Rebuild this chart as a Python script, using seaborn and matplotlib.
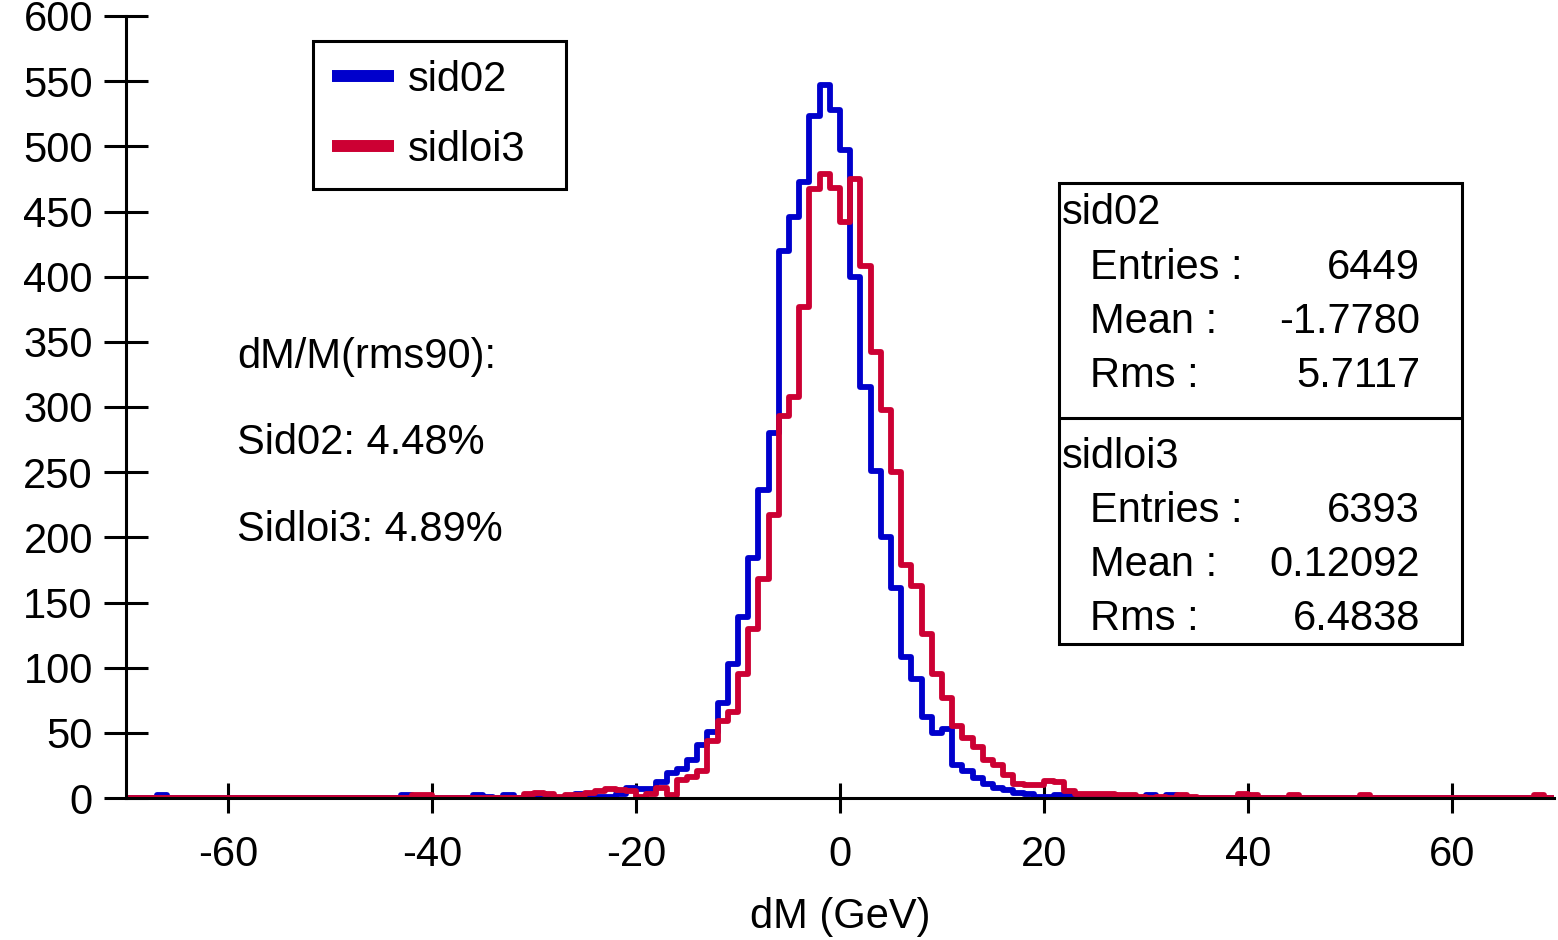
import numpy as np
import pandas as pd
import seaborn as sns
import matplotlib
matplotlib.use("Agg")
import matplotlib.pyplot as plt
from matplotlib.lines import Line2D
from matplotlib.patches import Rectangle

# ---------------- data ----------------
edges = list(range(-70, 71))          # 1 GeV bins from -70 to 70

sid02_counts = [
    0, 0, 0, 2, 0, 0, 0, 0, 0, 0,          # -70 .. -61
    0, 0, 0, 0, 0, 0, 0, 0, 0, 0,          # -60 .. -51
    0, 0, 0, 0, 0, 0, 0, 2, 0, 0,          # -50 .. -41
    0, 0, 0, 0, 2, 1, 0, 2, 0, 0,          # -40 .. -31
    0, 1, 0, 0, 3, 1, 1, 1, 3, 8,          # -30 .. -21
    7, 7, 12, 19, 22, 29, 41, 51, 73, 103,  # -20 .. -11
    139, 184, 236, 280, 420, 446, 473, 523, 547, 528,  # -10 .. -1
    497, 400, 315, 251, 200, 161, 108, 91, 62, 50,     # 0 .. 9
    53, 25, 21, 15, 11, 8, 6, 4, 3, 1,     # 10 .. 19
    1, 2, 2, 1, 0, 1, 0, 1, 0, 0,          # 20 .. 29
    2, 0, 2, 0, 0, 0, 0, 0, 0, 0,          # 30 .. 39
    1, 0, 0, 0, 0, 0, 0, 0, 0, 0,          # 40 .. 49
    0, 0, 0, 0, 0, 0, 0, 0, 0, 0,          # 50 .. 59
    0, 0, 0, 0, 0, 0, 0, 0, 0, 0,          # 60 .. 69
]

sidloi3_counts = [
    0, 0, 0, 0, 0, 0, 0, 0, 0, 0,          # -70 .. -61
    0, 0, 0, 0, 0, 0, 0, 0, 0, 0,          # -60 .. -51
    0, 0, 0, 0, 0, 0, 0, 0, 2, 2,          # -50 .. -41
    0, 0, 0, 0, 0, 0, 0, 0, 0, 3,          # -40 .. -31
    4, 3, 1, 2, 2, 4, 5, 7, 6, 5,          # -30 .. -21
    1, 3, 8, 2, 14, 16, 21, 44, 59, 66,    # -20 .. -11
    95, 130, 168, 217, 293, 308, 377, 467, 479, 468,   # -10 .. -1
    442, 475, 408, 342, 298, 250, 179, 163, 126, 95,   # 0 .. 9
    77, 55, 46, 39, 29, 25, 18, 11, 10, 10,  # 10 .. 19
    13, 12, 5, 3, 3, 3, 3, 2, 2, 1,        # 20 .. 29
    0, 1, 0, 2, 1, 0, 0, 0, 0, 3,          # 30 .. 39
    2, 0, 0, 0, 2, 0, 0, 0, 0, 0,          # 40 .. 49
    0, 2, 0, 0, 0, 0, 0, 0, 0, 0,          # 50 .. 59
    0, 0, 0, 0, 0, 0, 0, 0, 2, 0,          # 60 .. 69
]

series_names = ["sid02", "sidloi3"]
series_colors = ["#0000cc", "#cc0033"]

x_ticks = [-60, -40, -20, 0, 20, 40, 60]
y_ticks = list(range(0, 601, 50))
x_label = "dM (GeV)"

annot_lines = ["dM/M(rms90):", "Sid02: 4.48%", "Sidloi3: 4.89%"]
stats = {
    "sid02": [("Entries :", "6449"), ("Mean :", "-1.7780"), ("Rms :", "5.7117")],
    "sidloi3": [("Entries :", "6393"), ("Mean :", "0.12092"), ("Rms :", "6.4838")],
}

# ---------------- style ----------------
sns.set_style("ticks")
plt.rcParams["font.family"] = ["Liberation Sans", "DejaVu Sans"]
plt.rcParams["axes.unicode_minus"] = False
plt.rcParams["text.color"] = "black"
plt.rcParams["axes.labelcolor"] = "black"
plt.rcParams["xtick.color"] = "black"
plt.rcParams["ytick.color"] = "black"

W, H = 1558, 940
FS = 30
fig = plt.figure(figsize=(W / 100, H / 100), dpi=100)
ax = fig.add_axes([126 / W, 1 - 798 / H, (1554 - 126) / W, (798 - 16) / H])


def fx(px):
    return px / W


def fy(py):
    return 1 - py / H


centers = np.array(edges[:-1]) + 0.5
df = pd.DataFrame({
    "dM": np.concatenate([centers, centers]),
    "count": np.concatenate([sid02_counts, sidloi3_counts]),
    "series": [series_names[0]] * len(centers) + [series_names[1]] * len(centers),
})

for name, col in zip(series_names, series_colors):
    sub = df[df["series"] == name]
    sns.histplot(data=sub, x="dM", weights="count", bins=edges,
                 element="step", fill=False, color=col, linewidth=4.2, ax=ax)

ax.set_xlim(-70, 70)
ax.set_ylim(0, 600)
ax.set_xticks(x_ticks)
ax.set_yticks(y_ticks)
ax.set_ylabel("")
ax.set_xlabel(x_label, fontsize=FS, color="black")
ax.xaxis.set_label_coords(0.5, -0.126)

for s in ["top", "right"]:
    ax.spines[s].set_visible(False)
for s in ["left", "bottom"]:
    ax.spines[s].set_linewidth(2.2)
    ax.spines[s].set_color("black")

ax.tick_params(axis="x", direction="inout", length=21.6, width=2.2,
               labelsize=FS, pad=16, colors="black", labelcolor="black")
ax.tick_params(axis="y", direction="inout", length=31.7, width=2.2,
               labelsize=FS, pad=8, colors="black", labelcolor="black")

# legend (box stretched to the reference frame size)
handles = [Line2D([], [], color=c, lw=8.6, solid_capstyle="butt") for c in series_colors]
lx0, lx1, ly0, ly1 = fx(313), fx(566), fy(192), fy(41)
leg = ax.legend(handles, series_names, loc="upper left", mode="expand",
                bbox_to_anchor=(lx0, ly0, lx1 - lx0, ly1 - ly0),
                bbox_transform=fig.transFigure,
                frameon=True, fancybox=False, framealpha=1, edgecolor="black",
                borderaxespad=0, handlelength=1.5, handletextpad=0.33,
                borderpad=0.45, labelspacing=0.72, fontsize=FS)
leg.get_frame().set_linewidth(2.2)
for t in leg.get_texts():
    t.set_color("black")

# annotation text
for txt, py in zip(annot_lines, [357, 443, 530]):
    fig.text(fx(237), fy(py), txt, fontsize=FS, ha="left", va="center", color="black")

# stats box
box = Rectangle((fx(1059), fy(644)), fx(1462) - fx(1059), fy(183) - fy(644),
                transform=fig.transFigure, fill=True, facecolor="white",
                edgecolor="black", linewidth=2.2, zorder=5)
fig.add_artist(box)
fig.add_artist(Line2D([fx(1059), fx(1462)], [fy(418), fy(418)],
                      transform=fig.transFigure, color="black", linewidth=2.2, zorder=6))

block_y = {"sid02": [213, 268, 322, 376], "sidloi3": [457, 511, 565, 619]}
for name in series_names:
    ys = block_y[name]
    fig.text(fx(1062), fy(ys[0]), name, fontsize=FS, ha="left", va="center",
             color="black", zorder=7)
    for (lab, val), py in zip(stats[name], ys[1:]):
        fig.text(fx(1090), fy(py), lab, fontsize=FS, ha="left", va="center",
                 color="black", zorder=7)
        fig.text(fx(1420), fy(py), val, fontsize=FS, ha="right", va="center",
                 color="black", zorder=7)

fig.savefig("out.png", dpi=100)
